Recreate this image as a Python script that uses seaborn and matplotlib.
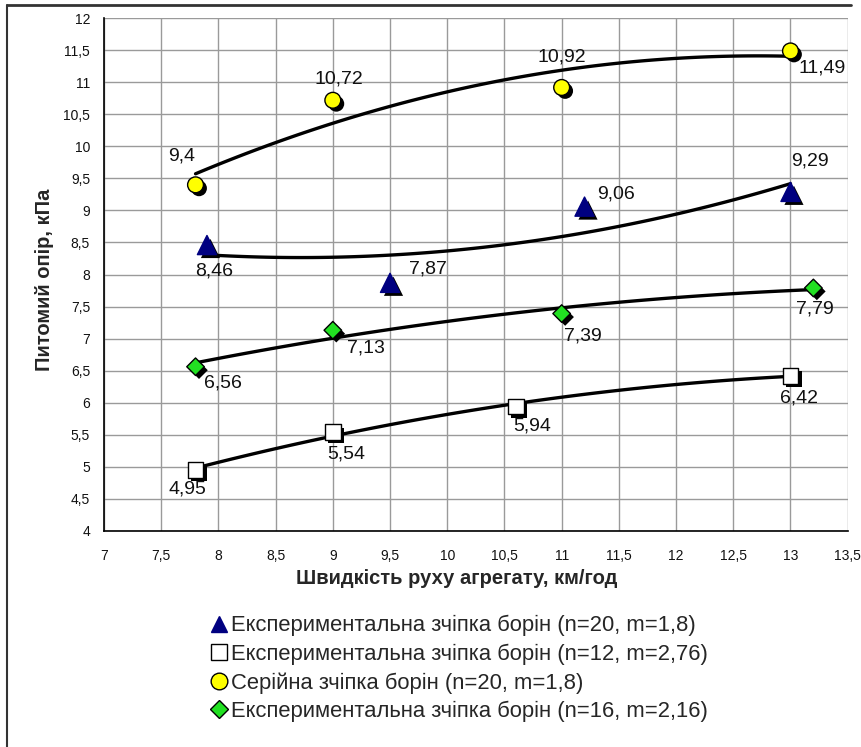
import numpy as np
import pandas as pd
import seaborn as sns
import matplotlib.pyplot as plt
import matplotlib.patheffects as pe
from matplotlib.lines import Line2D
from matplotlib.ticker import FuncFormatter

# --- data -------------------------------------------------------------
speed_tri = [7.9, 9.5, 11.2, 13.0]
resist_tri = [8.46, 7.87, 9.06, 9.29]

speed_sq = [7.8, 9.0, 10.6, 13.0]
resist_sq = [4.95, 5.54, 5.94, 6.42]

speed_circ = [7.8, 9.0, 11.0, 13.0]
resist_circ = [9.4, 10.72, 10.92, 11.49]

speed_dia = [7.8, 9.0, 11.0, 13.2]
resist_dia = [6.56, 7.13, 7.39, 7.79]

series_names = [
    "Експериментальна зчіпка борін (n=20, m=1,8)",
    "Експериментальна зчіпка борін (n=12, m=2,76)",
    "Серійна зчіпка борін (n=20, m=1,8)",
    "Експериментальна зчіпка борін (n=16, m=2,16)",
]

x_ticks = [7, 7.5, 8, 8.5, 9, 9.5, 10, 10.5, 11, 11.5, 12, 12.5, 13, 13.5]
y_ticks = [4, 4.5, 5, 5.5, 6, 6.5, 7, 7.5, 8, 8.5, 9, 9.5, 10, 10.5, 11, 11.5, 12]

x_label = "Швидкість руху агрегату, км/год"
y_label = "Питомий опір, кПа"

# --- styling ----------------------------------------------------------
sns.set_style("white")
plt.rcParams["font.family"] = ["Liberation Sans", "DejaVu Sans"]

styles = [
    dict(marker="^", face="#000080", edge="#000080", size=190),
    dict(marker="s", face="white", edge="black", size=130),
    dict(marker="o", face="#ffff00", edge="black", size=130),
    dict(marker="D", face="#22e022", edge="black", size=80),
]

# value-label offsets (points) relative to each marker
label_offsets = [
    [(5, -19), (27, 10), (23, 9), (14, 22)],
    [(-6, -14), (10, -16), (12, -14), (6, -16)],
    [(-10, 21), (4, 15), (0, 22), (23, -12)],
    [(20, -12), (24, -13), (15, -16), (1, -15)],
]

shadow = [pe.SimplePatchShadow(offset=(2.5, -2.5), shadow_rgbFace="black", alpha=1.0),
          pe.Normal()]

fig = plt.figure(figsize=(8.62, 7.47), dpi=100)
ax = fig.add_axes([104 / 862, 1 - 530.7 / 747, (847.7 - 104) / 862, (530.7 - 18.3) / 747])

groups = [
    (speed_tri, resist_tri),
    (speed_sq, resist_sq),
    (speed_circ, resist_circ),
    (speed_dia, resist_dia),
]

for (xs, ys), st, offs, name in zip(groups, styles, label_offsets, series_names):
    df = pd.DataFrame({"speed": xs, "resist": ys})
    # second-order trend line through the measurements
    sns.regplot(data=df, x="speed", y="resist", order=2, ci=None, scatter=False,
                truncate=True, ax=ax,
                line_kws=dict(color="black", lw=2.4, solid_capstyle="round", zorder=3))
    n_before = len(ax.collections)
    sns.scatterplot(data=df, x="speed", y="resist", ax=ax, marker=st["marker"],
                    s=st["size"], color=st["face"], edgecolor=st["edge"],
                    linewidth=1.0, zorder=4, legend=False)
    coll = ax.collections[n_before]
    coll.set_path_effects(shadow)
    for x, y, (dx, dy) in zip(xs, ys, offs):
        ax.annotate(f"{y:g}".replace(".", ","), (x, y), xytext=(dx, dy),
                    textcoords="offset points", ha="center", va="center",
                    fontsize=14, color="#111111", zorder=5)

ax.set_xlim(7, 13.5)
ax.set_ylim(4, 12)
ax.set_xticks(x_ticks)
ax.set_yticks(y_ticks)
fmt = FuncFormatter(lambda v, p: f"{v:g}".replace(".", ","))
ax.xaxis.set_major_formatter(fmt)
ax.yaxis.set_major_formatter(fmt)
ax.tick_params(axis="both", direction="out", length=4, width=1, color="black",
               labelsize=10, labelcolor="#111111", pad=6)
ax.tick_params(axis="x", pad=9)
ax.grid(True, color="#9a9a9a", lw=1.0)
ax.set_axisbelow(True)
for side in ("top", "right"):
    ax.spines[side].set_visible(False)
for side in ("left", "bottom"):
    ax.spines[side].set_color("black")
    ax.spines[side].set_linewidth(1.2)

ax.set_xlabel(x_label, fontsize=14.5, fontweight="bold")
ax.set_ylabel(y_label, fontsize=14.5, fontweight="bold")
ax.xaxis.set_label_coords((457 - 104) / 743.7, -(579 - 530.7) / 512.4)
ax.yaxis.set_label_coords(-(104 - 45) / 743.7, 0.49)
ax.xaxis.label.set_va("center")
ax.yaxis.label.set_va("center")

handles = [
    Line2D([], [], ls="none", marker=st["marker"], markerfacecolor=st["face"],
           markeredgecolor=st["edge"], markersize=(12 if st["marker"] != "D" else 9),
           markeredgewidth=1.0)
    for st in styles
]
fig.legend(handles, series_names, loc="upper left",
           bbox_to_anchor=(209 / 862, 1 - 615 / 747), frameon=False,
           fontsize=15.8, handlelength=0.9, handletextpad=0.08,
           labelspacing=0.33, borderpad=0, borderaxespad=0)

# outer frame lines
fig.add_artist(Line2D([7 / 862, 851 / 862], [1 - 5 / 747, 1 - 5 / 747],
                      transform=fig.transFigure, color="#333333", lw=2))
fig.add_artist(Line2D([7 / 862, 7 / 862], [1 - 5 / 747, 0],
                      transform=fig.transFigure, color="#333333", lw=1.5))

fig.savefig("out.png", dpi=100)
